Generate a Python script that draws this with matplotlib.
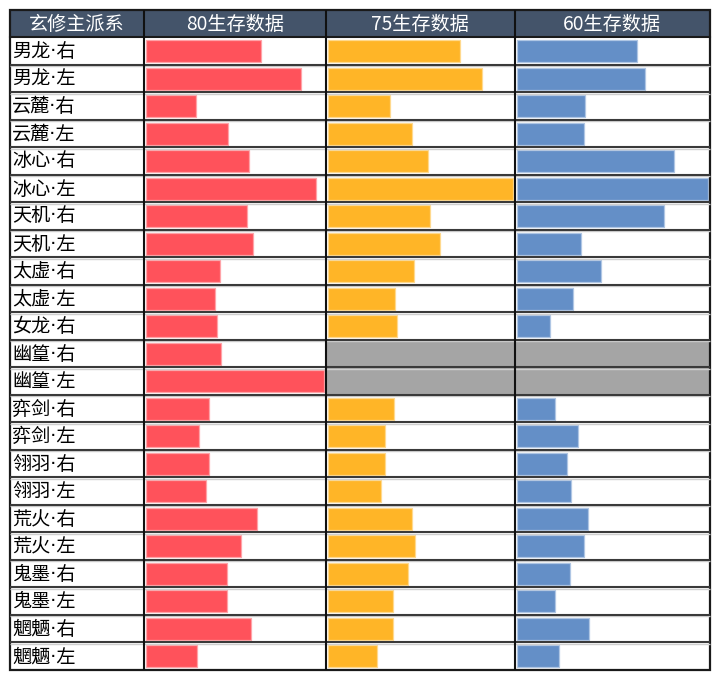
import matplotlib
matplotlib.use('Agg')
import matplotlib.pyplot as plt
import numpy as np

plt.rcParams['font.family'] = ['Noto Sans CJK SC', 'DejaVu Sans']

nan = np.nan
categories = ['男龙·右', '男龙·左', '云麓·右', '云麓·左', '冰心·右', '冰心·左',
              '天机·右', '天机·左', '太虚·右', '太虚·左', '女龙·右', '幽篁·右',
              '幽篁·左', '弈剑·右', '弈剑·左', '翎羽·右', '翎羽·左', '荒火·右',
              '荒火·左', '鬼墨·右', '鬼墨·左', '魍魉·右', '魍魉·左']
first_header = '玄修主派系'
series_names = ['80生存数据', '75生存数据', '60生存数据']
surv80 = [115.0, 155.3, 50.0, 82.0, 102.7, 170.0, 101.3, 107.3, 73.6, 68.8, 71.4,
          75.0, 177.7, 62.9, 52.5, 62.9, 59.9, 111.4, 95.1, 81.0, 81.0, 105.1, 51.4]
surv75 = [132.7, 155.0, 62.7, 85.0, 100.4, 185.4, 102.7, 112.7, 86.7, 67.9, 69.4,
          nan, nan, 66.7, 57.9, 57.9, 53.1, 84.2, 87.9, 80.5, 65.3, 65.3, 49.0]
surv60 = [120.0, 128.6, 68.6, 67.3, 157.3, 191.3, 147.3, 64.6, 84.0, 56.6, 33.7,
          nan, nan, 38.9, 61.4, 50.3, 54.0, 71.4, 67.4, 53.7, 38.9, 72.6, 42.6]

series = [surv80, surv75, surv60]
colors = ['#FF525B', '#FFB527', '#648FC7']
edges = ['#FFA3A8', '#FFD98E', '#AFC6E4']
gray = '#A5A5A5'
header_bg = '#44546A'

W, H = 720, 682
fig = plt.figure(figsize=(W / 100, H / 100), dpi=100)

top, head_bot, bottom = 10, 37.3, 670
left, right = 10, 710
col_edges = [10, 144, 325.7, 514.5, 710]
n = len(categories)
row_h = (bottom - head_bot) / n

# background axes (pixel coords)
bg = fig.add_axes([0, 0, 1, 1])
bg.set_xlim(0, W)
bg.set_ylim(H, 0)
bg.axis('off')
bg.add_patch(plt.Rectangle((left, top), right - left, head_bot - top,
                           facecolor=header_bg, edgecolor='none'))
headers = [first_header] + series_names
for i, h in enumerate(headers):
    cx = (col_edges[i] + col_edges[i + 1]) / 2
    bg.text(cx, (top + head_bot) / 2 + 0.5, h, color='white', fontsize=13.8,
            ha='center', va='center', family=['Noto Sans CJK SC', 'DejaVu Sans'])
for i, c in enumerate(categories):
    cy = head_bot + (i + 0.5) * row_h
    bg.text(12, cy + 0.5, c, color='#000000', fontsize=13.8, ha='left',
            va='center', family=['DejaVu Sans', 'Noto Sans CJK SC'])

# data columns
for k, vals in enumerate(series):
    L, R = col_edges[k + 1], col_edges[k + 2]
    wpx = R - L
    ax = fig.add_axes([L / W, 1 - bottom / H, wpx / W, (bottom - head_bot) / H])
    ax.patch.set_alpha(0)
    arr = np.array(vals, dtype=float)
    vmax = np.nanmax(arr)
    u = vmax / (wpx - 4)
    ax.set_xlim(-2 * u, vmax + 2 * u)
    ax.set_ylim(n - 0.5, -0.5)
    ax.axis('off')
    y = np.arange(n)
    ok = ~np.isnan(arr)
    ax.barh(y[ok], arr[ok], height=0.8, color=colors[k], edgecolor=edges[k],
            linewidth=0.9)
    miss = np.where(~ok)[0]
    if len(miss):
        ax.barh(miss, np.full(len(miss), vmax + 4 * u), left=-2 * u, height=1.0,
                color=gray, edgecolor='none')

# grid overlay
ov = fig.add_axes([0, 0, 1, 1])
ov.patch.set_alpha(0)
ov.set_xlim(0, W)
ov.set_ylim(H, 0)
ov.axis('off')
for i in range(1, n):
    yy = head_bot + i * row_h
    ov.plot([left, right], [yy + 1.2, yy + 1.2], color='#CFCFCF', lw=1.0,
            solid_capstyle='butt')
    ov.plot([left, right], [yy, yy], color='#3A3A3A', lw=1.5,
            solid_capstyle='butt')
ov.plot([left, right], [head_bot, head_bot], color='#1a1a1a', lw=1.5)
for x in col_edges[1:-1]:
    ov.plot([x, x], [top, bottom], color='#111111', lw=1.5, solid_capstyle='butt')
ov.add_patch(plt.Rectangle((left, top), right - left, bottom - top,
                           facecolor='none', edgecolor='#1a1a1a', lw=1.6))

fig.savefig('out.png', dpi=100)
